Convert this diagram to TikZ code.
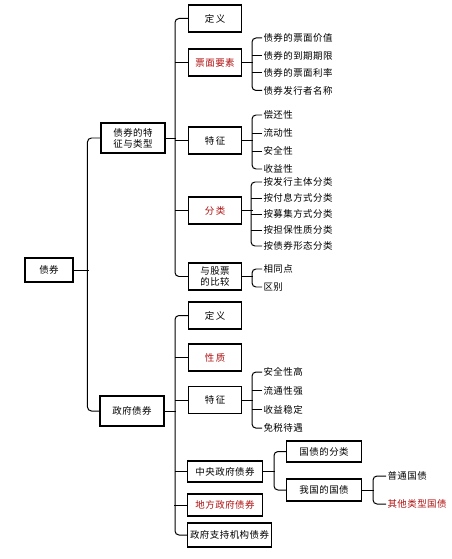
\documentclass[tikz,border=0pt]{standalone}
\usepackage{fontspec}
\newfontfamily\cjk[LetterSpace=5]{Noto Sans CJK SC}
\usetikzlibrary{positioning}
\definecolor{keyred}{RGB}{175,15,15}

\begin{document}
\begin{tikzpicture}[x=1bp, y=-1bp, line width=1pt,
    font=\cjk\fontsize{9.5}{11}\selectfont,
    box/.style={draw, line width=1.1pt, minimum width=53bp, minimum height=27bp,
                inner sep=1bp, align=center},
    leaf/.style={inner sep=1bp, anchor=west},
    hot/.style={text=keyred},
    curl/.style={rounded corners=4bp}]
    \useasboundingbox (0,0) rectangle (452,559);

    % Root and first level
    \node[box, minimum width=48bp, minimum height=24bp] (bond) at (49,270) {债券};
    \node[box, minimum width=64bp, minimum height=30bp] (feat) at (133,138) {债券的特\\征与类型};
    \node[box, minimum width=64bp, minimum height=30bp] (gov) at (132,411) {政府债券};
    \draw[curl] (feat.west) -- ++(-13,0) |- (gov.west);
    \draw (bond.east) -- ++(15,0);

    % Features and types
    \node[box, anchor=west] (def1) at (188,18.5) {定\,义};
    \node[box, anchor=west, hot] (face) at (188,62.5) {票面要素};
    \node[box, anchor=west] (char1) at (188,140.5) {特\,征};
    \node[box, anchor=west, hot] (cls) at (188,210.5) {分\,类};
    \node[box, anchor=west] (cmp) at (188,276.5) {与股票\\的比较};
    \draw[curl] (def1.west) -- ++(-13,0) |- (cmp.west);
    \foreach \n in {face, char1, cls}
        \draw (\n.west) -- ++(-13,0);
    \draw (feat.east) -- ++(10,0);

    \foreach \t [count=\i] in {债券的票面价值, 债券的到期期限, 债券的票面利率, 债券发行者名称}
        \node[leaf] (face-\i) at (262, 20.5+17.5*\i) {\t};
    \foreach \t [count=\i] in {偿还性, 流动性, 安全性, 收益性}
        \node[leaf] (char1-\i) at (262, 97+18*\i) {\t};
    \foreach \t [count=\i] in {按发行主体分类, 按付息方式分类, 按募集方式分类, 按担保性质分类, 按债券形态分类}
        \node[leaf] (cls-\i) at (262, 166+16*\i) {\t};
    \node[leaf] (cmp-1) at (262,269) {相同点};
    \node[leaf] (cmp-2) at (262,287) {区别};

    \draw[curl] (face-1.west) -- ++(-10,0) |- (face-4.west);
    \draw[curl] (char1-1.west) -- ++(-10,0) |- (char1-4.west);
    \draw[curl] (cls-1.west) -- ++(-11,0) |- (cls-5.west);
    \draw[curl] (cmp-1.west) -- ++(-10,0) |- (cmp-2.west);
    \foreach \n in {face-2, face-3, char1-2, char1-3}
        \draw (\n.west) -- ++(-10,0);
    \foreach \n in {cls-2, cls-3, cls-4}
        \draw (\n.west) -- ++(-11,0);
    \foreach \n in {face, char1, cls, cmp}
        \draw (\n.east) -- ++(11,0);

    % Government bonds
    \node[box, anchor=west] (def2) at (188,315.5) {定\,义};
    \node[box, anchor=west, hot] (prop) at (188,357.5) {性\,质};
    \node[box, anchor=west] (char2) at (188,400) {特\,征};
    \node[box, anchor=west, minimum width=75bp, minimum height=21bp] (cent) at (187,471.5) {中央政府债券};
    \node[box, anchor=west, minimum width=75bp, minimum height=22bp, hot] (local) at (187,505) {地方政府债券};
    \node[box, anchor=west, minimum width=84bp, minimum height=24bp] (agency) at (187,535) {政府支持机构债券};
    \draw[curl] (def2.west) -- ++(-13,0) |- (agency.west);
    \foreach \n in {prop, char2, local}
        \draw (\n.west) -- ++(-13,0);
    \draw (cent.west) -- ++(-12,0);
    \draw (gov.east) -- ++(11,0);

    \foreach \t [count=\i] in {安全性高, 流通性强, 收益稳定, 免税待遇}
        \node[leaf] (char2-\i) at (262, 353.3+18.7*\i) {\t};
    \draw[curl] (char2-1.west) -- ++(-10,0) |- (char2-4.west);
    \foreach \n in {char2-2, char2-3}
        \draw (\n.west) -- ++(-10,0);
    \draw (char2.east) -- ++(11,0);

    % Central government bonds
    \node[box, anchor=west, minimum width=75bp, minimum height=21bp] (kind) at (286,451.5) {国债的分类};
    \node[box, anchor=west, minimum width=75bp, minimum height=22bp] (ours) at (286,490) {我国的国债};
    \draw[curl] (kind.west) -- ++(-12,0) |- (ours.west);
    \draw (cent.east) -- ++(12,0);

    \node[leaf] (ours-1) at (386,476) {普通国债};
    \node[leaf, hot] (ours-2) at (386,504) {其他类型国债};
    \draw[curl] (ours-1.west) -- ++(-13,0) |- (ours-2.west);
    \draw (ours.east) -- ++(12,0);
\end{tikzpicture}
\end{document}
